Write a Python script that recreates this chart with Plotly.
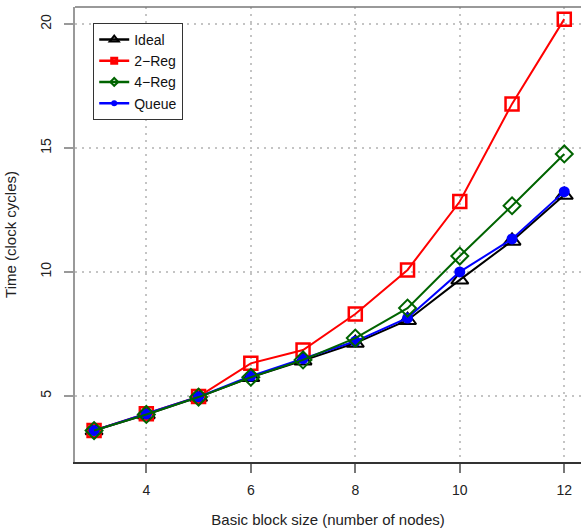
import plotly.graph_objects as go

x_vals = [3, 4, 5, 6, 7, 8, 9, 10, 11, 12]
ideal = [3.6, 4.25, 4.95, 5.75, 6.42, 7.13, 8.05, 9.68, 11.25, 13.1]
reg2 = [3.6, 4.28, 4.97, 6.31, 6.85, 8.3, 10.08, 12.84, 16.78, 20.2]
reg4 = [3.6, 4.25, 4.95, 5.75, 6.45, 7.33, 8.54, 10.64, 12.67, 14.76]
queue = [3.6, 4.27, 4.96, 5.8, 6.5, 7.2, 8.14, 10.0, 11.33, 13.24]

x_ticks = [4, 6, 8, 10, 12]
y_ticks = [5, 10, 15, 20]

series = [
    # name, values, color, symbol, size, line width, legend symbol size, legend line width
    ("Ideal", ideal, "#000000", "triangle-up-open", 15, 2, 8, 2),
    ("2\u2212Reg", reg2, "#ff0000", "square-open", 13, 2.5, 5, 3),
    ("4\u2212Reg", reg4, "#006400", "diamond-open", 13, 2, 6, 2),
    ("Queue", queue, "#0000ff", "circle", 11, 0, 6, 0),
]
draw_order = [0, 1, 3, 2]

fig = go.Figure()
for i in draw_order:
    name, vals, col, sym, sz, lw, _, _ = series[i]
    fig.add_trace(go.Scatter(
        x=x_vals, y=vals, mode="lines+markers", name=name, showlegend=False,
        line=dict(color=col, width=2),
        marker=dict(symbol=sym, size=sz, color=col, line=dict(color=col, width=lw)),
        cliponaxis=False,
    ))
for name, vals, col, sym, sz, lw, lsz, llw in series:
    fig.add_trace(go.Scatter(
        x=[None], y=[None], mode="lines+markers", name=name, showlegend=True,
        line=dict(color=col, width=2.5),
        marker=dict(symbol=sym, size=lsz, color=col, line=dict(color=col, width=llw)),
    ))

font_family = "Liberation Sans, Arial, sans-serif"
fig.update_layout(
    width=581, height=532,
    margin=dict(l=75, r=0, t=7, b=70),
    paper_bgcolor="white", plot_bgcolor="white",
    font=dict(family=font_family, size=13, color="#222222"),
    showlegend=True,
    legend=dict(
        x=0.036, y=0.965, xanchor="left", yanchor="top",
        bgcolor="white", bordercolor="#333333", borderwidth=1,
        font=dict(size=14, color="#111111"),
        itemwidth=30, traceorder="normal",
    ),
    xaxis=dict(
        range=[2.635, 12.32], tickvals=x_ticks, ticktext=[str(v) for v in x_ticks],
        showgrid=True, gridcolor="#c4c4c4", griddash="2px,5px", gridwidth=1.5,
        zeroline=False, showline=True, linecolor="#333333", linewidth=1.5,
        ticks="outside", ticklen=9, tickwidth=1.5, tickcolor="#777777",
        ticklabelstandoff=5,
        tickfont=dict(size=14),
        title=dict(text="Basic block size (number of nodes)", font=dict(size=15), standoff=18),
    ),
    yaxis=dict(
        range=[2.33, 20.69], tickvals=y_ticks, ticktext=[str(v) for v in y_ticks],
        showgrid=True, gridcolor="#c4c4c4", griddash="2px,5px", gridwidth=1.5,
        zeroline=False, showline=True, linecolor="#999999", linewidth=2,
        ticks="outside", ticklen=9, tickwidth=2, tickcolor="#999999",
        tickangle=-90, ticklabelstandoff=7,
        tickfont=dict(size=14),
        title=dict(text="Time (clock cycles)", font=dict(size=15), standoff=18),
    ),
    shapes=[dict(type="line", xref="paper", yref="paper", x0=0, x1=1, y0=1, y1=1,
                 line=dict(color="#777777", width=1.5))],
)

fig.write_html(
    "out.html",
    config={"displayModeBar": False},
    post_script="document.body.style.margin='0';document.body.style.padding='0';",
)
